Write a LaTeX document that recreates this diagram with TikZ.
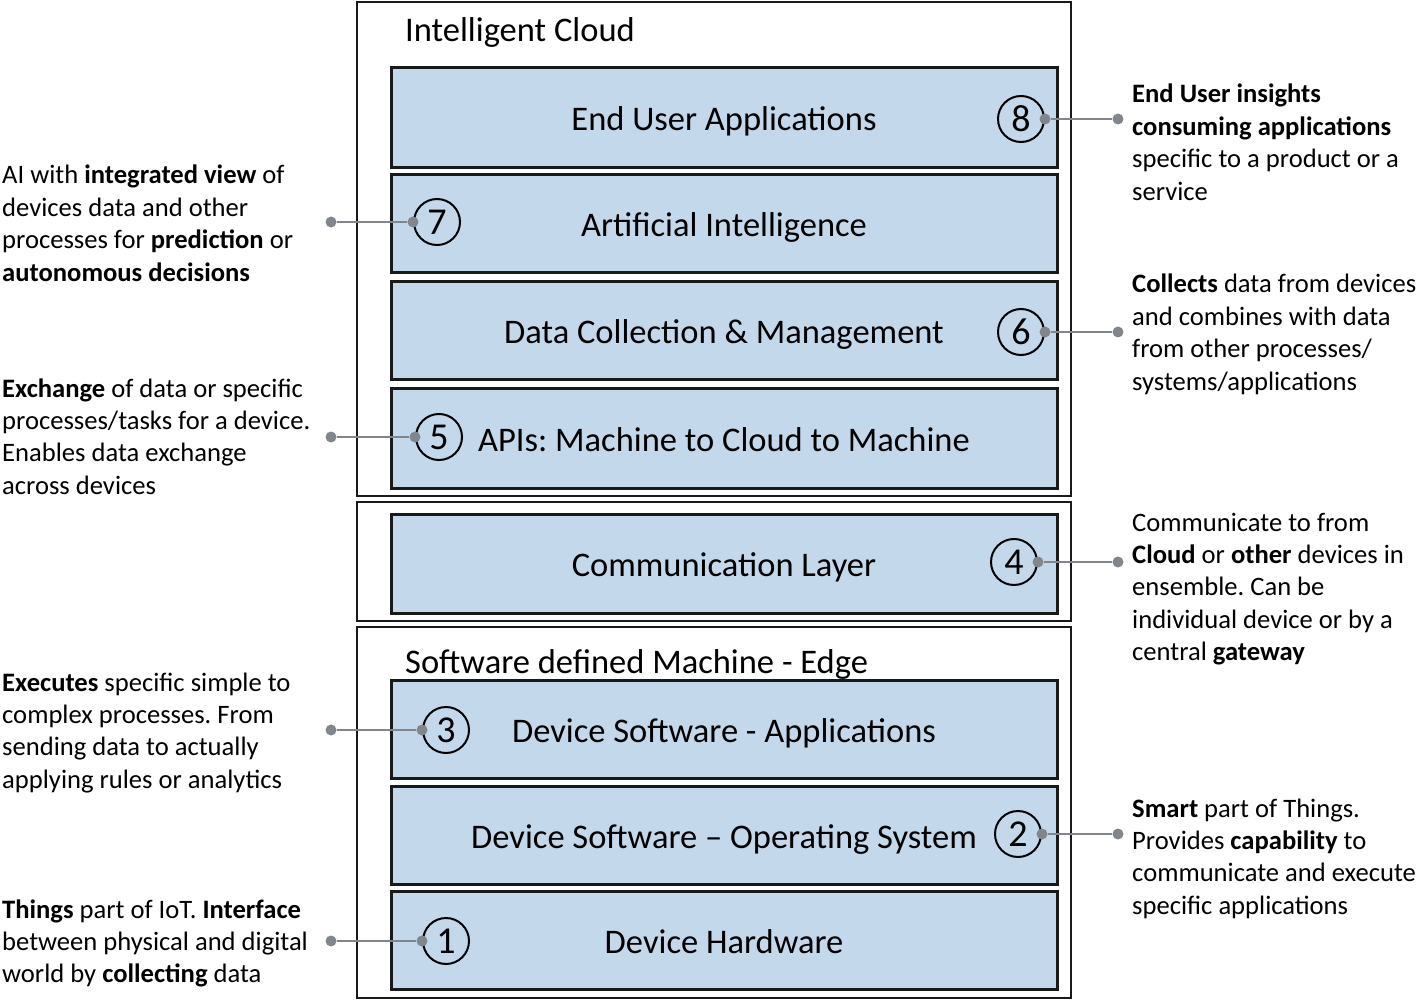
\documentclass[tikz,border=0pt]{standalone}
\usepackage{fontspec}
\setmainfont{Carlito}
\frenchspacing
\definecolor{layerblue}{RGB}{196,216,236}
\definecolor{dotgray}{RGB}{128,134,140}
\newcommand{\sidetxt}[1]{\fontsize{26.6}{32.4}\selectfont\begin{tabular}[t]{@{}l@{}}#1\end{tabular}}
\begin{document}
\begin{tikzpicture}[x=1pt,y=-1pt,
  outer/.style={draw=black!90, line width=2.5pt, minimum width=714pt, inner sep=0pt},
  layer/.style={draw=black!90, fill=layerblue, line width=3pt, minimum width=666pt, minimum height=98pt, inner sep=0pt},
  lbl/.style={anchor=base, inner sep=0pt, font=\fontsize{34.5}{40}\selectfont},
  num/.style={circle, draw=black, line width=2pt, minimum size=46pt, inner sep=0pt, font=\fontsize{38}{40}\selectfont},
  dot/.style={circle, fill=dotgray, inner sep=0pt, minimum size=11pt},
  conn/.style={draw=dotgray, line width=2pt},
  head/.style={anchor=base west, inner sep=0pt, font=\fontsize{34.5}{40}\selectfont},
  side/.style={anchor=base west, inner sep=0pt}
]
\useasboundingbox (0,0) rectangle (1425,1000);
% outer frames
\node[outer, minimum height=494pt] (cloud) at (714,249) {};
\node[outer, minimum height=119pt] (comm) at (714,561.5) {};
\node[outer, minimum height=371pt] (edge) at (714,812.5) {};
\node[head] (cloudt) at (405,42) {Intelligent Cloud};
\node[head] (edget) at (405,673) {Software defined Machine - Edge};
% layers
\node[layer, minimum height=100pt] (l8) at (724,118) {};
\node[layer] (l7) at (724,224) {};
\node[layer] (l6) at (724,331) {};
\node[layer, minimum height=99pt] (l5) at (724,438.5) {};
\node[layer, minimum height=99pt] (l4) at (724,563.5) {};
\node[layer] (l3) at (724,729) {};
\node[layer] (l2) at (724,835) {};
\node[layer] (l1) at (724,940) {};
\node[lbl] (n8) at (724,131) {End User Applications};
\node[lbl] (n7) at (724,237) {Artificial Intelligence};
\node[lbl] (n6) at (724,344) {Data Collection \& Management};
\node[lbl] (n5) at (724,451) {APIs: Machine to Cloud to Machine};
\node[lbl] (n4) at (724,576) {Communication Layer};
\node[lbl] (n3) at (724,742) {Device Software - Applications};
\node[lbl] (n2) at (724,848) {Device Software -- Operating System};
\node[lbl] (n1) at (724,953) {Device Hardware};
% numbers
\node[num] (c8) at (1021,119) {8};
\node[num] (c7) at (437,222) {7};
\node[num] (c6) at (1021,332) {6};
\node[num] (c5) at (439,437) {5};
\node[num] (c4) at (1014,562) {4};
\node[num] (c3) at (446,730) {3};
\node[num] (c2) at (1018,834) {2};
\node[num] (c1) at (446,941) {1};
% connectors
\foreach \n/\y in {7/222,5/437,3/730,1/941}{
  \node[dot] (s\n) at (c\n.west) {};
  \node[dot] (e\n) at (331,\y) {};
  \draw[conn] (s\n) -- (e\n);
}
\foreach \n/\y in {8/119,6/332,4/562,2/834}{
  \node[dot] (s\n) at (c\n.east) {};
  \node[dot] (e\n) at (1118,\y) {};
  \draw[conn] (s\n) -- (e\n);
}
% side texts left
\node[side] (t7) at (2,184) {\sidetxt{AI with \textbf{integrated view} of\\devices data and other\\processes for \textbf{prediction} or\\\textbf{autonomous decisions}}};
\node[side] (t5) at (2,397) {\sidetxt{\textbf{Exchange} of data or specific\\processes/tasks for a device.\\Enables data exchange\\across devices}};
\node[side] (t3) at (2,691) {\sidetxt{\textbf{Executes} specific simple to\\complex processes. From\\sending data to actually\\applying rules or analytics}};
\node[side] (t1) at (2,918) {\sidetxt{\textbf{Things} part of IoT. \textbf{Interface}\\between physical and digital\\world by \textbf{collecting} data}};
% side texts right
\node[side] (t8) at (1132,103) {\sidetxt{\textbf{End User insights}\\\textbf{consuming applications}\\specific to a product or a\\service}};
\node[side] (t6) at (1132,293) {\sidetxt{\textbf{Collects} data from devices\\and combines with data\\from other processes/\\systems/applications}};
\node[side] (t4) at (1132,531) {\sidetxt{Communicate to from\\\textbf{Cloud} or \textbf{other} devices in\\ensemble. Can be\\individual device or by a\\central \textbf{gateway}}};
\node[side] (t2) at (1132,817) {\sidetxt{\textbf{Smart} part of Things.\\Provides \textbf{capability} to\\communicate and execute\\specific applications}};
\end{tikzpicture}
\end{document}
